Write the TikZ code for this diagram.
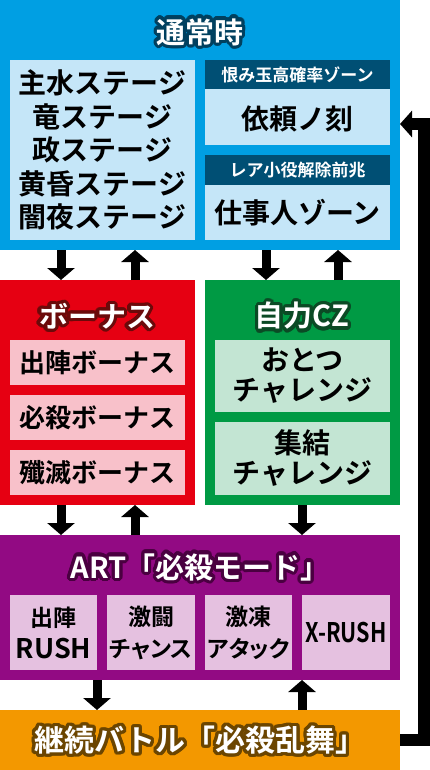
\documentclass[tikz,border=0pt]{standalone}
\usepackage{fontspec}
\setmainfont{Noto Sans CJK JP Bold}
\newfontfamily\jpp{Noto Sans CJK JP Bold}[RawFeature=+palt]
\usetikzlibrary{arrows.meta,calc}
\definecolor{cblue}{HTML}{009FE3}
\definecolor{clblue}{HTML}{C5E6F8}
\definecolor{cnavy}{HTML}{004F74}
\definecolor{cblueo}{HTML}{00405F}
\definecolor{cred}{HTML}{E60012}
\definecolor{cpink}{HTML}{F8C1CA}
\definecolor{credo}{HTML}{6B0A0A}
\definecolor{cgreen}{HTML}{009A44}
\definecolor{clgreen}{HTML}{C3E5D3}
\definecolor{cgreeno}{HTML}{0B4A25}
\definecolor{cpurple}{HTML}{920A83}
\definecolor{clpurple}{HTML}{E5C1E0}
\definecolor{cpurpleo}{HTML}{4A0040}
\definecolor{corange}{HTML}{F39800}
\definecolor{corangeo}{HTML}{6B4500}
\newcommand\fsz[2]{\fontsize{#1pt}{#2pt}\selectfont}
\newcommand\bxn[6]{\node[rbox, fill=#6, minimum width=#4pt, minimum height=#5pt] (#1) at (#2,#3) {};}
% name, position, outline colour, font size, text
\newcommand\ttlnode[5]{%
  \foreach \a in {0,15,...,345}{\node[ttlf, font=\fsz{#4}{32}, text=#3] at ($(#2)+(\a:3.2pt)$) {#5};}
  \node[ttlf, font=\fsz{#4}{32}, text=white] (#1) at (#2) {#5};}
\begin{document}
\begin{tikzpicture}[x=1pt,y=-1pt,
  rbox/.style={anchor=north west, inner sep=0pt, outer sep=0pt, draw=none},
  ttlf/.style={inner sep=0pt, align=center},
  txt/.style={inner sep=0pt, align=center, text=black},
  hdr/.style={inner sep=0pt, align=center, text=white, font=\fsz{17}{20}},
  arr/.style={line width=9pt, -{Triangle[width=27pt,length=12pt]}}]
\useasboundingbox (0,0) rectangle (430,770);
% boxes
\bxn{blue}{0}{0}{400}{250}{cblue}
\bxn{stages}{10}{60}{185}{180}{clblue}
\bxn{h1}{205}{60}{185}{29}{cnavy}
\bxn{b1}{205}{89}{185}{56}{clblue}
\bxn{h2}{205}{155}{185}{30}{cnavy}
\bxn{b2}{205}{185}{185}{55}{clblue}
\bxn{red}{0}{280}{195}{225}{cred}
\bxn{r1}{10}{340}{175}{45}{cpink}
\bxn{r2}{10}{395}{175}{45}{cpink}
\bxn{r3}{10}{450}{175}{45}{cpink}
\bxn{green}{205}{280}{195}{225}{cgreen}
\bxn{g1}{215}{340}{175}{72}{clgreen}
\bxn{g2}{215}{422}{175}{73}{clgreen}
\bxn{purple}{0}{535}{400}{145}{cpurple}
\bxn{p1}{10}{595}{87}{75}{clpurple}
\bxn{p2}{107}{595}{88}{75}{clpurple}
\bxn{p3}{205}{595}{87}{75}{clpurple}
\bxn{p4}{302}{595}{88}{75}{clpurple}
\bxn{orange}{0}{710}{400}{60}{corange}
% titles
\ttlnode{tblue}{200,32}{cblueo}{29}{通常時}
\ttlnode{tred}{97,316}{credo}{29}{ボーナス}
\ttlnode{tgreen}{302,316}{cgreeno}{29}{自力CZ}
\ttlnode{tpurple}{200,567}{cpurpleo}{29}{ART「必殺モード」}
\ttlnode{torange}{200,740}{corangeo}{30}{継続バトル「必殺乱舞」}
% texts
\node[txt, font=\fsz{28}{33.5}] at (stages) {主水ステージ\\竜ステージ\\政ステージ\\黄昏ステージ\\闇夜ステージ};
\node[hdr] at (h1) {恨み玉高確率ゾーン};
\node[txt, font=\fsz{28}{30}] at ($(b1)+(0,2)$) {依頼ノ刻};
\node[hdr] at (h2) {レア小役解除前兆};
\node[txt, font=\fsz{28}{30}] at (b2) {仕事人ゾーン};
\node[txt, font=\fsz{26}{30}] at (r1) {出陣ボーナス};
\node[txt, font=\fsz{26}{30}] at (r2) {必殺ボーナス};
\node[txt, font=\fsz{26}{30}] at (r3) {殲滅ボーナス};
\node[txt, font=\fsz{28}{30}] at (g1) {おとつ\\チャレンジ};
\node[txt, font=\fsz{28}{30}] at (g2) {集結\\チャレンジ};
\node[txt, font=\jpp\fsz{23}{32}] at (p1) {出陣\\{\fsz{27}{32}RUSH}};
\node[txt, font=\jpp\fsz{23}{32}] at (p2) {激闘\\チャンス};
\node[txt, font=\jpp\fsz{23}{32}] at (p3) {激凍\\アタック};
\node[txt, font=\jpp\fsz{27}{32}] at (p4) {\scalebox{0.8}[1]{X-RUSH}};
% connectors
\coordinate (x61) at (61,0);
\coordinate (x135) at (135,0);
\coordinate (x266) at (266,0);
\coordinate (x338) at (338,0);
\coordinate (x302) at (302,0);
\coordinate (x97) at (97,0);
\draw[arr] (x61 |- blue.south) -- (x61 |- red.north);
\draw[arr] (x135 |- red.north) -- (x135 |- blue.south);
\draw[arr] (x266 |- blue.south) -- (x266 |- green.north);
\draw[arr] (x338 |- green.north) -- (x338 |- blue.south);
\draw[arr] (x61 |- red.south) -- (x61 |- purple.north);
\draw[arr] (x135 |- purple.north) -- (x135 |- red.south);
\draw[arr] (x302 |- green.south) -- (x302 |- purple.north);
\draw[arr] (x97 |- purple.south) -- (x97 |- orange.north);
\draw[arr] (x302 |- orange.north) -- (x302 |- purple.south);
\coordinate (fb) at (424,124);
\draw[line width=11.5pt, line join=miter, -{Triangle[width=26pt,length=12pt]}]
  (orange.east) -| (fb) -- (fb -| blue.east);
\end{tikzpicture}
\end{document}
